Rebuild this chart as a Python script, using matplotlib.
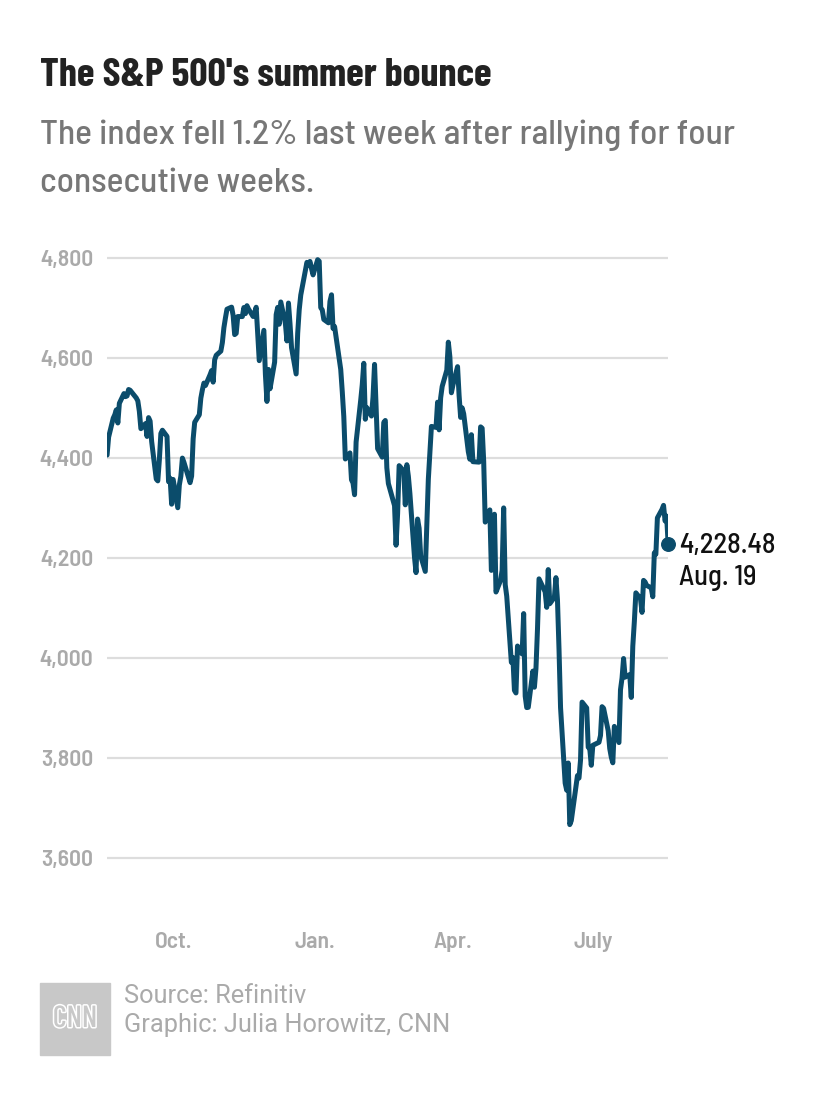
import numpy as np
import pandas as pd
import matplotlib
matplotlib.use("Agg")
import matplotlib.pyplot as plt
import matplotlib.patheffects as pe
from matplotlib.patches import Rectangle

# daily closes, Aug 19 2021 - Aug 19 2022
dates = pd.to_datetime([
    "2021-08-19", "2021-08-20", "2021-08-23", "2021-08-24", "2021-08-25", "2021-08-26", "2021-08-27",
    "2021-08-30", "2021-08-31", "2021-09-01", "2021-09-02", "2021-09-03", "2021-09-07", "2021-09-08",
    "2021-09-09", "2021-09-10", "2021-09-13", "2021-09-14", "2021-09-15", "2021-09-16", "2021-09-17",
    "2021-09-20", "2021-09-21", "2021-09-22", "2021-09-23", "2021-09-24", "2021-09-27", "2021-09-28",
    "2021-09-29", "2021-09-30", "2021-10-01", "2021-10-04", "2021-10-05", "2021-10-06", "2021-10-07",
    "2021-10-08", "2021-10-11", "2021-10-12", "2021-10-13", "2021-10-14", "2021-10-15", "2021-10-18",
    "2021-10-19", "2021-10-20", "2021-10-21", "2021-10-22", "2021-10-25", "2021-10-26", "2021-10-27",
    "2021-10-28", "2021-10-29", "2021-11-01", "2021-11-02", "2021-11-03", "2021-11-04", "2021-11-05",
    "2021-11-08", "2021-11-09", "2021-11-10", "2021-11-11", "2021-11-12", "2021-11-15", "2021-11-16",
    "2021-11-17", "2021-11-18", "2021-11-19", "2021-11-22", "2021-11-23", "2021-11-24", "2021-11-26",
    "2021-11-29", "2021-11-30", "2021-12-01", "2021-12-02", "2021-12-03", "2021-12-06", "2021-12-07",
    "2021-12-08", "2021-12-09", "2021-12-10", "2021-12-13", "2021-12-14", "2021-12-15", "2021-12-16",
    "2021-12-17", "2021-12-20", "2021-12-21", "2021-12-22", "2021-12-23", "2021-12-27", "2021-12-28",
    "2021-12-29", "2021-12-30", "2021-12-31", "2022-01-03", "2022-01-04", "2022-01-05", "2022-01-06",
    "2022-01-07", "2022-01-10", "2022-01-11", "2022-01-12", "2022-01-13", "2022-01-14", "2022-01-18",
    "2022-01-19", "2022-01-20", "2022-01-21", "2022-01-24", "2022-01-25", "2022-01-26", "2022-01-27",
    "2022-01-28", "2022-01-31", "2022-02-01", "2022-02-02", "2022-02-03", "2022-02-04", "2022-02-07",
    "2022-02-08", "2022-02-09", "2022-02-10", "2022-02-11", "2022-02-14", "2022-02-15", "2022-02-16",
    "2022-02-17", "2022-02-18", "2022-02-22", "2022-02-23", "2022-02-24", "2022-02-25", "2022-02-28",
    "2022-03-01", "2022-03-02", "2022-03-03", "2022-03-04", "2022-03-07", "2022-03-08", "2022-03-09",
    "2022-03-10", "2022-03-11", "2022-03-14", "2022-03-15", "2022-03-16", "2022-03-17", "2022-03-18",
    "2022-03-21", "2022-03-22", "2022-03-23", "2022-03-24", "2022-03-25", "2022-03-28", "2022-03-29",
    "2022-03-30", "2022-03-31", "2022-04-01", "2022-04-04", "2022-04-05", "2022-04-06", "2022-04-07",
    "2022-04-08", "2022-04-11", "2022-04-12", "2022-04-13", "2022-04-14", "2022-04-18", "2022-04-19",
    "2022-04-20", "2022-04-21", "2022-04-22", "2022-04-25", "2022-04-26", "2022-04-27", "2022-04-28",
    "2022-04-29", "2022-05-02", "2022-05-03", "2022-05-04", "2022-05-05", "2022-05-06", "2022-05-09",
    "2022-05-10", "2022-05-11", "2022-05-12", "2022-05-13", "2022-05-16", "2022-05-17", "2022-05-18",
    "2022-05-19", "2022-05-20", "2022-05-23", "2022-05-24", "2022-05-25", "2022-05-26", "2022-05-27",
    "2022-05-31", "2022-06-01", "2022-06-02", "2022-06-03", "2022-06-06", "2022-06-07", "2022-06-08",
    "2022-06-09", "2022-06-10", "2022-06-13", "2022-06-14", "2022-06-15", "2022-06-16", "2022-06-17",
    "2022-06-21", "2022-06-22", "2022-06-23", "2022-06-24", "2022-06-27", "2022-06-28", "2022-06-29",
    "2022-06-30", "2022-07-01", "2022-07-05", "2022-07-06", "2022-07-07", "2022-07-08", "2022-07-11",
    "2022-07-12", "2022-07-13", "2022-07-14", "2022-07-15", "2022-07-18", "2022-07-19", "2022-07-20",
    "2022-07-21", "2022-07-22", "2022-07-25", "2022-07-26", "2022-07-27", "2022-07-28", "2022-07-29",
    "2022-08-01", "2022-08-02", "2022-08-03", "2022-08-04", "2022-08-05", "2022-08-08", "2022-08-09",
    "2022-08-10", "2022-08-11", "2022-08-12", "2022-08-15", "2022-08-16", "2022-08-17", "2022-08-18",
    "2022-08-19",
])
closes = [
    4405.80, 4441.67, 4479.53, 4486.23, 4496.19, 4470.00, 4509.37,
    4528.79, 4522.68, 4524.09, 4536.95, 4535.43, 4520.03, 4514.07,
    4493.28, 4458.58, 4468.73, 4443.05, 4480.70, 4473.75, 4432.99,
    4357.73, 4354.19, 4395.64, 4448.98, 4455.48, 4443.11, 4352.63,
    4359.46, 4307.54, 4357.04, 4300.46, 4345.72, 4363.55, 4399.76,
    4391.34, 4361.19, 4350.65, 4363.80, 4438.26, 4471.37, 4486.46,
    4519.63, 4536.19, 4549.78, 4544.90, 4566.48, 4574.79, 4551.68,
    4596.42, 4605.38, 4613.67, 4630.65, 4660.57, 4680.06, 4697.53,
    4701.70, 4685.25, 4646.71, 4649.27, 4682.85, 4682.80, 4700.90,
    4688.67, 4704.54, 4697.96, 4682.94, 4690.70, 4701.46, 4594.62,
    4655.27, 4567.00, 4513.04, 4577.10, 4538.43, 4591.67, 4686.75,
    4701.21, 4667.45, 4712.02, 4668.97, 4634.09, 4709.85, 4668.67,
    4620.64, 4568.02, 4649.23, 4696.56, 4725.79, 4791.19, 4786.35,
    4793.06, 4778.73, 4766.18, 4796.56, 4793.54, 4700.58, 4696.05,
    4677.03, 4670.29, 4713.07, 4726.35, 4659.03, 4662.85, 4577.11,
    4532.76, 4482.73, 4397.94, 4410.13, 4356.45, 4349.93, 4326.51,
    4431.85, 4515.55, 4546.54, 4589.38, 4477.44, 4500.53, 4483.87,
    4521.54, 4587.18, 4504.08, 4418.64, 4401.67, 4471.07, 4475.01,
    4380.26, 4348.87, 4304.76, 4225.50, 4288.70, 4384.65, 4373.94,
    4306.26, 4386.54, 4363.49, 4328.87, 4201.09, 4170.70, 4277.88,
    4259.52, 4204.31, 4173.11, 4262.45, 4357.86, 4411.67, 4463.12,
    4461.18, 4511.61, 4456.24, 4520.16, 4543.06, 4575.52, 4631.60,
    4602.45, 4530.41, 4545.86, 4582.64, 4525.12, 4481.15, 4500.21,
    4488.28, 4412.53, 4397.45, 4446.59, 4392.59, 4391.69, 4462.21,
    4459.45, 4393.66, 4271.78, 4296.12, 4175.20, 4183.96, 4287.50,
    4131.93, 4155.38, 4175.48, 4300.17, 4146.87, 4123.34, 3991.24,
    4001.05, 3935.18, 3930.08, 4023.89, 4008.01, 4088.85, 3923.68,
    3900.79, 3901.36, 3973.75, 3941.48, 3978.73, 4057.84, 4158.24,
    4132.15, 4101.23, 4176.82, 4108.54, 4121.43, 4160.68, 4115.77,
    4017.82, 3900.86, 3749.63, 3735.48, 3789.99, 3666.77, 3674.84,
    3764.79, 3759.89, 3795.73, 3911.74, 3900.11, 3821.55, 3818.83,
    3785.38, 3825.33, 3831.39, 3845.08, 3902.62, 3899.38, 3854.43,
    3818.80, 3801.78, 3790.38, 3863.16, 3830.85, 3936.69, 3959.90,
    3998.95, 3961.63, 3966.84, 3921.05, 4023.61, 4072.43, 4130.29,
    4118.63, 4091.19, 4155.17, 4151.94, 4145.19, 4140.06, 4122.47,
    4210.24, 4207.27, 4280.15, 4297.14, 4305.20, 4274.04, 4283.74,
    4228.48,
]

y_ticks = [3600, 3800, 4000, 4200, 4400, 4600, 4800]
x_ticks = pd.to_datetime(["2021-10-01", "2022-01-01", "2022-04-01", "2022-07-01"])
x_labels = ["Oct.", "Jan.", "Apr.", "July"]

semi = ["Barlow Semi Condensed", "DejaVu Sans"]
cond = ["Barlow Condensed", "DejaVu Sans"]
plain = ["Roboto", "DejaVu Sans"]
line_color = "#0b4c6b"

fig = plt.figure(figsize=(8.3, 11.06), dpi=100)
ax = fig.add_axes([0.129, 0.2152, 0.676, 0.5606])

ax.plot(dates, closes, color=line_color, lw=3.6, solid_joinstyle="round",
        solid_capstyle="round", zorder=3)
ax.scatter([dates[-1]], [closes[-1]], s=95, color=line_color, zorder=4, clip_on=False)

ax.set_xlim(dates[0], dates[-1])
ax.set_ylim(3580, 4820)
ax.set_yticks(y_ticks)
ax.set_yticklabels([f"{v:,}" for v in y_ticks])
ax.set_xticks(x_ticks)
ax.set_xticklabels(x_labels)
ax.grid(axis="y", color="#dddddd", lw=1.6, zorder=0)
ax.tick_params(length=0, colors="#aaaaaa")
ax.tick_params(axis="y", pad=10)
ax.tick_params(axis="x", pad=46)
for lab in ax.get_yticklabels() + ax.get_xticklabels():
    lab.set_family(semi)
    lab.set_fontsize(17)
    lab.set_fontweight(600)
for s in ax.spines.values():
    s.set_visible(False)

# end label
ax.annotate("4,228.48\nAug. 19", (dates[-1], closes[-1]), xytext=(8, 8),
            textcoords="offset points", ha="left", va="top", fontsize=20.5,
            family=semi, fontweight=500, color="#111111", linespacing=1.32,
            annotation_clip=False)

fig.text(0.048, 0.922, "The S&P 500's summer bounce", fontsize=29, fontweight=700,
         family=cond, color="#222222", va="baseline")
fig.text(0.048, 0.87, "The index fell 1.2% last week after rallying for four",
         fontsize=25.5, family=semi, fontweight=500, color="#777777", va="baseline")
fig.text(0.048, 0.826, "consecutive weeks.", fontsize=25.5, family=semi,
         fontweight=500, color="#777777", va="baseline")

# footer
fig.patches.append(Rectangle((40 / 830, 1 - 1055 / 1106), 70 / 830, 72 / 1106,
                             transform=fig.transFigure, color="#c8c8c8"))
fig.text(75 / 830, 1 - 1019 / 1106, "CNN", color="#c8c8c8", fontsize=22,
         family=cond, fontweight=500, ha="center", va="center",
         path_effects=[pe.withStroke(linewidth=2.2, foreground="white")])
fig.text(124 / 830, 1 - 996 / 1106, "Source: Refinitiv", fontsize=18.3,
         family=plain, color="#aaaaaa", va="center")
fig.text(124 / 830, 1 - 1025 / 1106, "Graphic: Julia Horowitz, CNN", fontsize=18.3,
         family=plain, color="#aaaaaa", va="center")

fig.savefig("out.png", dpi=100, facecolor="white")
